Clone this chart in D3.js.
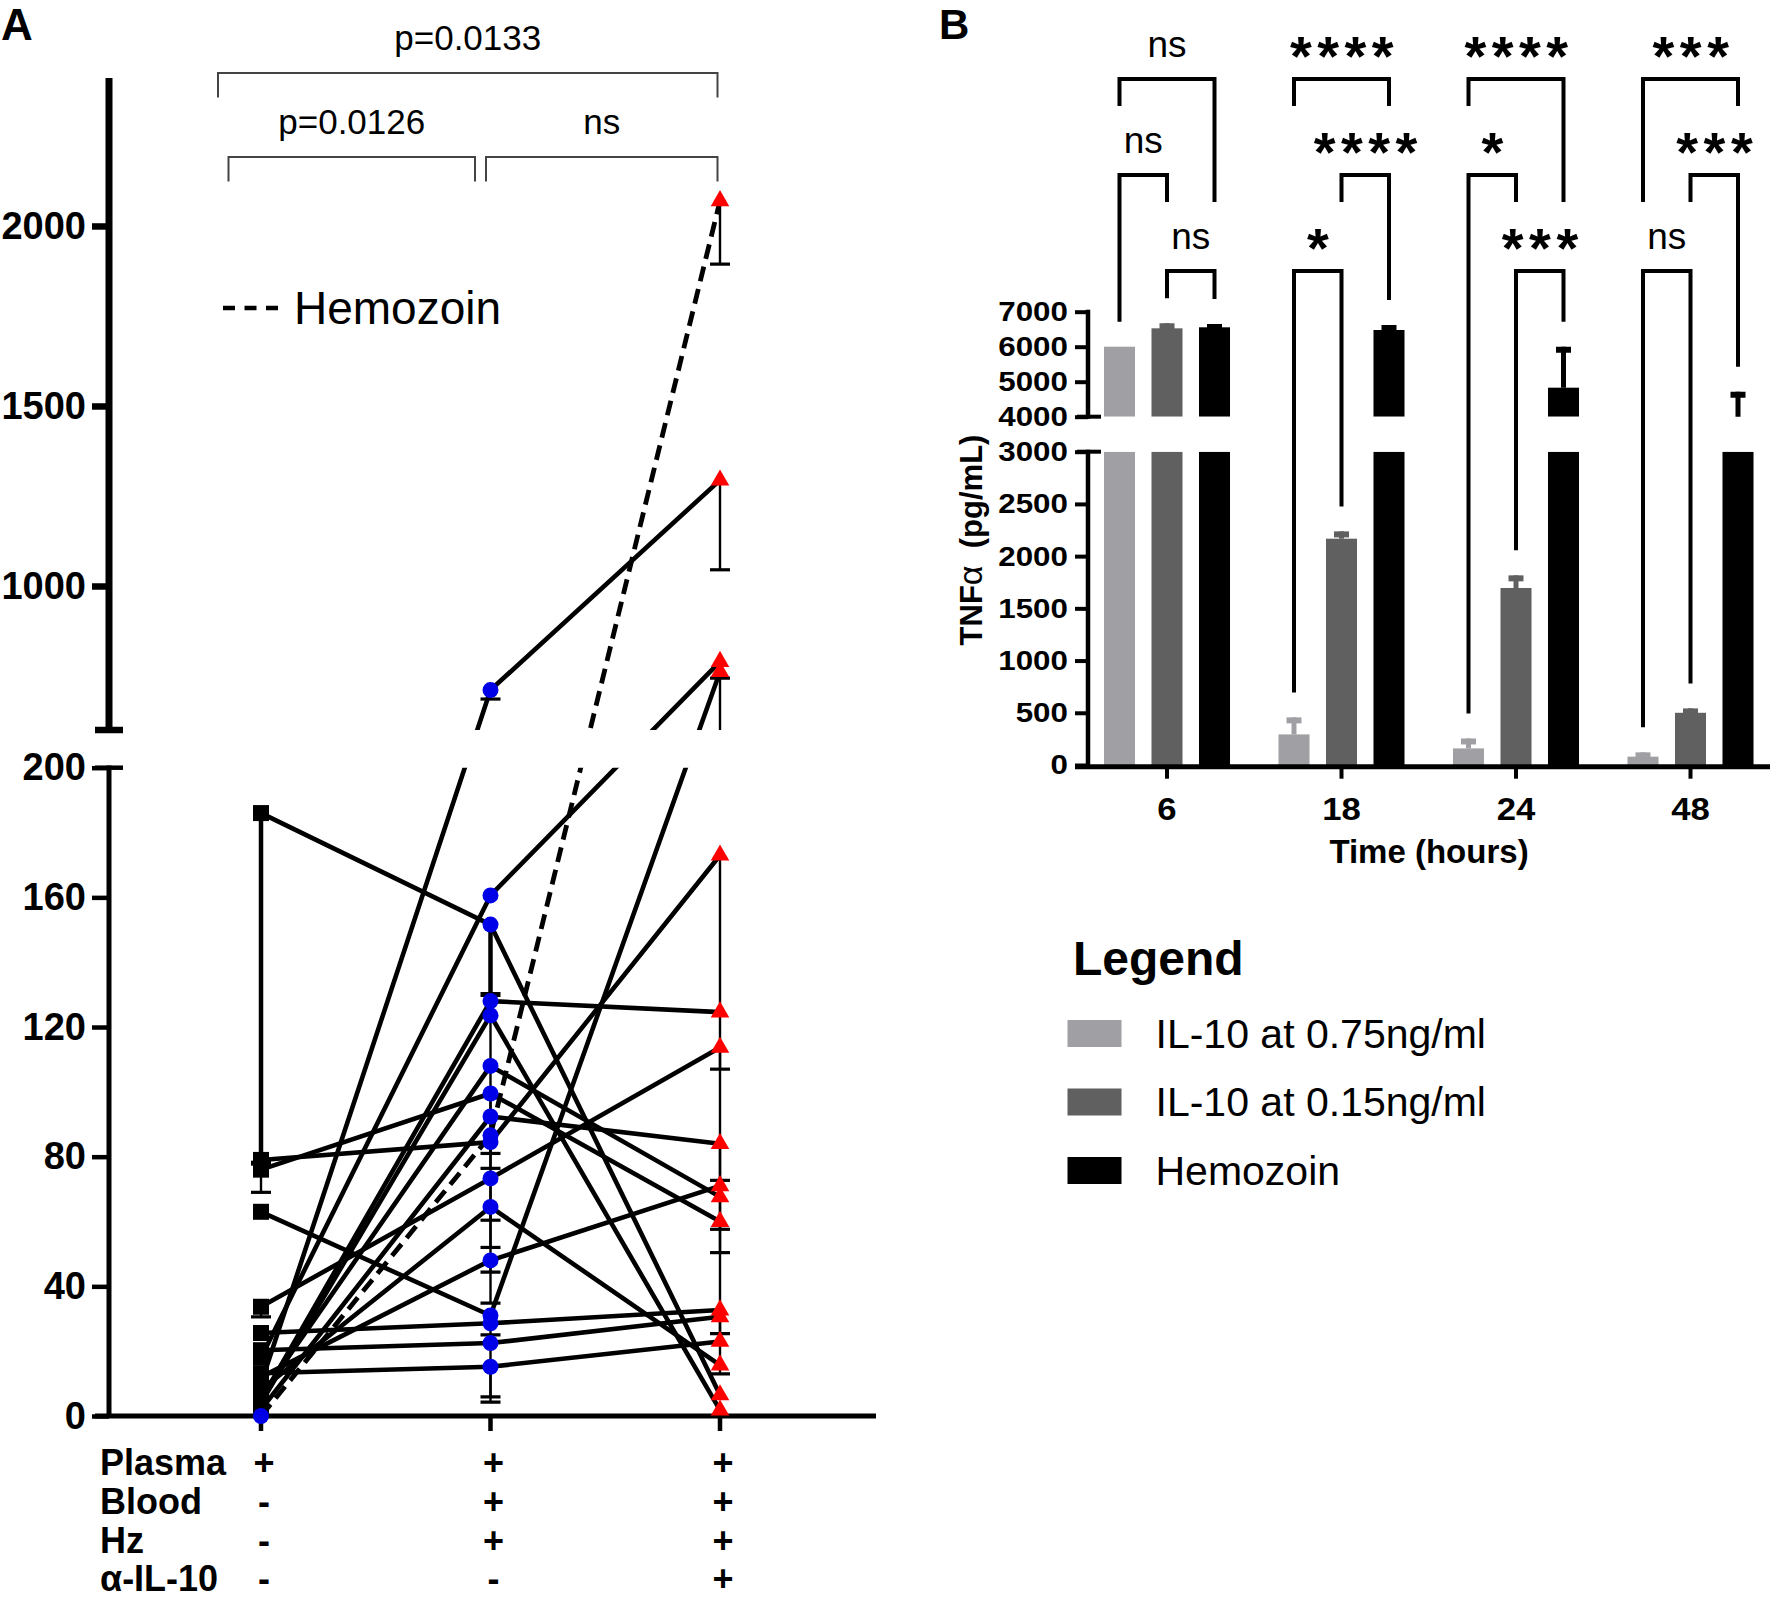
<!DOCTYPE html>
<html><head><meta charset="utf-8">
<script src="https://cdn.jsdelivr.net/npm/d3@7"></script>
<style>body{margin:0;background:#fff}svg{display:block}</style>
</head><body>
<svg id="c" width="1770" height="1600"></svg>
<script>
// ================= DATA =================
// Panel A : one entry per donor (Plasma / Blood+Hz / Blood+Hz+anti-IL-10)
const plasmaVals   = [10, 18, 63, 186, 5, 79, 4, 6, 33.7, 12, 25.6, 20.3, 13.2, 8, 76, 2];
const bloodHzVals  = [711, 160.6, 31, 151.6, 128, 84.5, 123.6, 108, 73.3, 48, 28.6, 22.5, 15.2, 64.5, 99.5, 92.4];
const antiIL10Vals = [1294, 790, 762, 6.5, 124.6, 173, 1.8, 67.6, 113.7, 71, 32.7, 30.6, 23, 15.7, 60, 84];
const hemozoinVals = [0, 86.6, 2070];
const ticksLowerA = [0, 40, 80, 120, 160, 200];
const ticksUpperA = [1000, 1500, 2000];
const rowLabels = ["Plasma", "Blood", "Hz", "α-IL-10"];
const signs = [["+", "-", "-", "-"], ["+", "+", "+", "-"], ["+", "+", "+", "+"]];
// error bars [column, value, lower end]
const errThickA = [[0, 186, 78], [1, 151.6, 130]];
const errThinA = [[0, 75, 69], [0, 33.7, 30.6], [1, 711, 686], [1, 123.6, 81], [1, 99.5, 76.4], [1, 84.5, 60.4],
  [1, 73.3, 52], [1, 64.5, 44.4], [1, 48, 34.8], [1, 31, 25], [1, 22.5, 5.9], [1, 15.2, 4.3],
  [2, 2070, 1894], [2, 1294, 1045], [2, 790, 744], [2, 762, 400], [2, 173, 107], [2, 113.7, 72.7],
  [2, 84, 57.6], [2, 71, 50.4], [2, 60, 25.4], [2, 30.6, 13]];
const statsA = [[0, 2, "p=0.0133", 0], [0, 1, "p=0.0126", 1], [1, 2, "ns", 1]];

// Panel B
const hours = ["6", "18", "24", "48"];
const seriesNames = ["IL-10 at 0.75ng/ml", "IL-10 at 0.15ng/ml", "Hemozoin"];
const seriesColors = ["#a0a0a4", "#606060", "#000000"];
const il10High = [6000, 293, 159, 80];
const il10HighErr = [6000, 456, 254, 121];
const il10Low = [6525, 2167, 1695, 500];
const il10LowErr = [6669, 2237, 1816, 542];
const hzB = [6554, 6477, 4829, 3800];
const hzBErr = [6650, 6620, 6000, 4714];
const ticksLowB = [0, 500, 1000, 1500, 2000, 2500, 3000];
const ticksUpB = [4000, 5000, 6000, 7000];
// [group, bar a, bar b, level, label, left leg, right leg]  s=short m=mid b=to bar
const bracketsB = [
  [0, 0, 2, 0, "ns", "s", "m"], [0, 0, 1, 1, "ns", "b", "m"], [0, 1, 2, 2, "ns", "b", "b"],
  [1, 0, 2, 0, "****", "s", "s"], [1, 1, 2, 1, "****", "m", "b"], [1, 0, 1, 2, "*", "b", "b"],
  [2, 0, 2, 0, "****", "s", "m"], [2, 0, 1, 1, "*", "b", "m"], [2, 1, 2, 2, "***", "b", "b"],
  [3, 0, 2, 0, "***", "m", "s"], [3, 1, 2, 1, "***", "m", "b"], [3, 0, 1, 2, "ns", "b", "b"]];

// ================= DRAW =================
const F = '"Liberation Sans", Arial, Helvetica, sans-serif';
const svg = d3.select("#c");
const defs = svg.append("defs");

function txt(g, x, y, s, size, bold, anchor) {
  return g.append("text").attr("x", x).attr("y", y).text(s)
    .attr("font-family", F).attr("font-size", size)
    .attr("font-weight", bold ? "bold" : "normal")
    .attr("text-anchor", anchor || "start").attr("fill", "#000");
}
function ln(g, x1, y1, x2, y2, w, c) {
  return g.append("line").attr("x1", x1).attr("y1", y1).attr("x2", x2).attr("y2", y2)
    .attr("stroke", c || "#000").attr("stroke-width", w);
}
function styleAxis(g, size, w) {
  g.select(".domain").remove();
  g.selectAll(".tick line").attr("stroke", "#000").attr("stroke-width", w);
  g.selectAll(".tick text").attr("font-family", F).attr("font-size", size)
    .attr("font-weight", "bold").attr("fill", "#000");
}
// horizontally widen tick labels (the original figure was stretched)
function widen(g, sx) {
  g.selectAll(".tick text").each(function () {
    const t = d3.select(this), x = +t.attr("x") || 0, y = +t.attr("y") || 0;
    t.attr("x", 0).attr("y", 0).attr("transform", `translate(${x},${y}) scale(${sx},1)`);
  });
}

// ---------- Panel A ----------
const A = svg.append("g");
txt(A, 1, 40, "A", 44, true);
const xA = d3.scalePoint().domain([0, 1, 2]).range([261, 720]);
const yLowA = d3.scaleLinear().domain([0, 200]).range([1416, 767.7]);
const yUpA = d3.scaleLinear().domain([600, 2411]).range([730, 78]);
const yA = d3.scaleLinear().domain([0, 200, 600, 2411]).range([1416, 767.7, 730, 78]);

defs.append("clipPath").attr("id", "clipA").call(cp => {
  cp.append("rect").attr("x", 110).attr("y", 60).attr("width", 700).attr("height", 670);
  cp.append("rect").attr("x", 110).attr("y", 767.7).attr("width", 700).attr("height", 672);
});

// axes
const axLow = A.append("g").attr("transform", "translate(109,0)")
  .call(d3.axisLeft(yLowA).tickValues(ticksLowerA).tickSize(17).tickPadding(6).tickFormat(d3.format("d")));
styleAxis(axLow, 38, 4.5);
const axUp = A.append("g").attr("transform", "translate(109,0)")
  .call(d3.axisLeft(yUpA).tickValues(ticksUpperA).tickSize(17).tickPadding(6).tickFormat(d3.format("d")));
styleAxis(axUp, 38, 6.5);
ln(A, 109, 78, 109, 733, 7);
ln(A, 95, 730, 123, 730, 6.5);
ln(A, 109, 765.5, 109, 1418, 5);
ln(A, 95, 767.7, 123, 767.7, 4.5);
ln(A, 95, 1416, 876, 1416, 5);
xA.domain().forEach(c => ln(A, xA(c), 1416, xA(c), 1431, 4.5));

// data lines
const gl = A.append("g").attr("clip-path", "url(#clipA)");
const subjects = plasmaVals.map((p, i) => [p, bloodHzVals[i], antiIL10Vals[i]]);
const lineA = d3.line().x((d, i) => xA(i)).y(d => yA(d));
gl.selectAll("path.subj").data(subjects).join("path").attr("class", "subj")
  .attr("d", lineA).attr("fill", "none").attr("stroke", "#000").attr("stroke-width", 4.6)
  .attr("stroke-linejoin", "round");
gl.append("path").attr("d", lineA(hemozoinVals)).attr("fill", "none").attr("stroke", "#000")
  .attr("stroke-width", 4.8).attr("stroke-dasharray", "15 8");
// error bars
errThinA.forEach(([c, v, lo]) => {
  ln(gl, xA(c), yA(v), xA(c), yA(lo), 2.4);
  ln(gl, xA(c) - 10, yA(lo), xA(c) + 10, yA(lo), 3.2);
});
errThickA.forEach(([c, v, lo]) => {
  ln(gl, xA(c), yA(v), xA(c), yA(lo), 4.5);
  ln(gl, xA(c) - 10, yA(lo), xA(c) + 10, yA(lo), 5);
});
// markers
const gm = A.append("g");
const blue = "#0000e8";
gm.selectAll("rect.sq").data(plasmaVals).join("rect").attr("class", "sq")
  .attr("x", xA(0) - 8).attr("y", d => yA(d) - 8).attr("width", 16).attr("height", 16).attr("fill", "#000");
gm.selectAll("circle.bl").data(bloodHzVals.concat([hemozoinVals[1]])).join("circle").attr("class", "bl")
  .attr("cx", xA(1)).attr("cy", d => yA(d)).attr("r", 8).attr("fill", blue);
gm.append("circle").attr("cx", xA(0)).attr("cy", yA(hemozoinVals[0])).attr("r", 8).attr("fill", blue);
const tri = d3.symbol().type(d3.symbolTriangle).size(150);
gm.selectAll("path.tr").data(antiIL10Vals.concat([hemozoinVals[2]])).join("path").attr("class", "tr")
  .attr("d", tri).attr("transform", d => `translate(${xA(2)},${yA(d)})`).attr("fill", "#ff0000");

// stats brackets A
const brA = [{x1: 218, x2: 717.5}, {x1: 228.5, x2: 475}, {x1: 486, x2: 717.5}];
const levA = [73, 157];
statsA.forEach((s, i) => {
  const b = brA[i], y = levA[s[3]];
  A.append("path").attr("d", `M${b.x1},${y + 24.5}V${y}H${b.x2}V${y + 24.5}`)
    .attr("fill", "none").attr("stroke", "#444").attr("stroke-width", 2);
  txt(A, (b.x1 + b.x2) / 2, y - 23, s[2], 35, false, "middle");
});
// legend A
ln(A, 223, 308, 279, 308, 4.5).attr("stroke-dasharray", "12 9.5");
txt(A, 294, 324, "Hemozoin", 46, false);

// condition rows
rowLabels.forEach((r, k) => {
  const y = 1475 + k * 38.8;
  txt(A, 100, y, r, 36, true);
  signs.forEach((col, c) => txt(A, xA(c) + 3, y, col[k], 36, true, "middle"));
});

// ---------- Panel B ----------
const B = svg.append("g");
txt(B, 939, 39, "B", 42, true);
const xB = d3.scaleBand().domain(hours).range([1079.75, 1777.75]);
const inner = d3.scaleBand().domain([0, 1, 2]).range([-71.25, 71.25]).paddingInner(0.347).paddingOuter(0.1735);
const yLowB = d3.scaleLinear().domain([0, 3000]).range([765, 451.7]);
const yUpB = d3.scaleLinear().domain([4000, 7000]).range([416.7, 311.7]);
const yB = d3.scaleLinear().domain([0, 3000, 4000, 7000]).range([765, 451.7, 416.7, 311.7]);
const vals = [il10High, il10Low, hzB];
const errs = [il10HighErr, il10LowErr, hzBErr];
const cx = (g, s) => xB(hours[g]) + xB.bandwidth() / 2 + inner(s) + inner.bandwidth() / 2;

defs.append("clipPath").attr("id", "clipB").call(cp => {
  cp.append("rect").attr("x", 1090).attr("y", 290).attr("width", 690).attr("height", 416.7 - 290);
  cp.append("rect").attr("x", 1090).attr("y", 451.7).attr("width", 690).attr("height", 320);
});
const gb = B.append("g").attr("clip-path", "url(#clipB)");
vals.forEach((arr, s) => arr.forEach((v, g) => {
  const x0 = cx(g, s) - inner.bandwidth() / 2, w = inner.bandwidth();
  const top = yLowB(Math.min(v, 3000));
  gb.append("rect").attr("x", x0).attr("y", top).attr("width", w).attr("height", yLowB(0) - top)
    .attr("fill", seriesColors[s]);
  if (v > 4000) gb.append("rect").attr("x", x0).attr("y", yUpB(v)).attr("width", w)
    .attr("height", yUpB(4000) - yUpB(v)).attr("fill", seriesColors[s]);
  const e = errs[s][g];
  if (e > v) {
    ln(gb, cx(g, s), yB(v), cx(g, s), yB(e), 5, seriesColors[s]);
    ln(gb, cx(g, s) - 7.5, yB(e) + 3, cx(g, s) + 7.5, yB(e) + 3, 6, seriesColors[s]);
  }
}));

// axes B
const axLowB = B.append("g").attr("transform", "translate(1088,0)")
  .call(d3.axisLeft(yLowB).tickValues(ticksLowB).tickSize(13).tickPadding(7).tickFormat(d3.format("d")));
styleAxis(axLowB, 28, 4);
widen(axLowB, 1.12);
const axUpB = B.append("g").attr("transform", "translate(1088,0)")
  .call(d3.axisLeft(yUpB).tickValues(ticksUpB).tickSize(13).tickPadding(7).tickFormat(d3.format("d")));
styleAxis(axUpB, 28, 4);
widen(axUpB, 1.12);
ln(B, 1088, 309.7, 1088, 418.7, 4.5);
ln(B, 1077, 416.7, 1101, 416.7, 4);
ln(B, 1088, 449.7, 1088, 768, 4.5);
ln(B, 1077, 451.7, 1101, 451.7, 4);
ln(B, 1075, 766.7, 1770, 766.7, 5);
const axX = B.append("g").attr("transform", "translate(0,766.7)")
  .call(d3.axisBottom(xB).tickSize(12).tickPadding(19));
styleAxis(axX, 31, 4);
axX.selectAll(".tick text").attr("dy", "0.71em");
widen(axX, 1.12);
txt(B, 1429, 863, "Time (hours)", 33, true, "middle");
const yt = B.append("text").attr("transform", "translate(982,540) rotate(-90)")
  .attr("text-anchor", "middle").attr("font-family", F).attr("font-size", 31).attr("font-weight", "bold");
yt.append("tspan").text("TNF");
yt.append("tspan").attr("font-weight", "normal").attr("font-size", 34).text("α");
yt.append("tspan").text("  (pg/mL)").style("white-space", "pre");

// significance brackets B
const levB = [79, 175, 271];
const legEnd = (code, g, s) => code === "s" ? 106 : code === "m" ? 202 : yB(errs[s][g]) - 25;
bracketsB.forEach(([g, a, b, lv, lab, le, re]) => {
  const x1 = cx(g, a), x2 = cx(g, b), y = levB[lv];
  B.append("path").attr("d", `M${x1},${legEnd(le, g, a)}V${y}H${x2}V${legEnd(re, g, b)}`)
    .attr("fill", "none").attr("stroke", "#000").attr("stroke-width", 4).attr("stroke-linejoin", "miter");
  const mx = (x1 + x2) / 2;
  if (lab === "ns") txt(B, mx, y - 22, "ns", 37, false, "middle");
  else txt(B, mx + 3, y - 4, lab, 56, true, "middle").attr("letter-spacing", 5.5);
});

// legend B
txt(B, 1073, 975, "Legend", 48, true);
seriesNames.forEach((n, i) => {
  const y = 1020 + i * 68.5;
  B.append("rect").attr("x", 1067.5).attr("y", y).attr("width", 54).attr("height", 27).attr("fill", seriesColors[i]);
  txt(B, 1155.5, y + 27.5, n, 41, false);
});
</script>
</body></html>
